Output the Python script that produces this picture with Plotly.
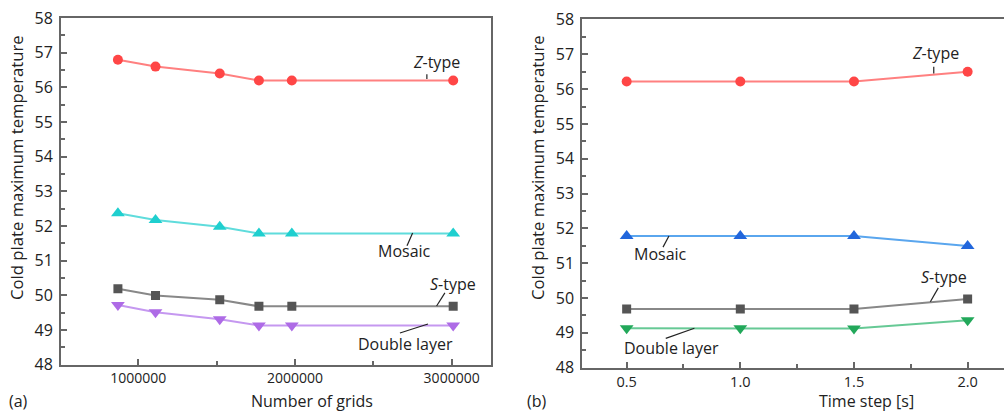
import plotly.graph_objects as go

# ---- data: panel (a) grid independence ----
grids = [870000, 1110000, 1520000, 1770000, 1980000, 3010000]
z_type_a = [56.8, 56.6, 56.4, 56.2, 56.2, 56.2]
mosaic_a = [52.37, 52.17, 51.98, 51.78, 51.78, 51.78]
s_type_a = [50.19, 49.99, 49.87, 49.68, 49.68, 49.68]
double_a = [49.72, 49.51, 49.31, 49.13, 49.13, 49.13]

# ---- data: panel (b) time step independence ----
time_step = [0.5, 1.0, 1.5, 2.0]
z_type_b = [56.22, 56.22, 56.22, 56.5]
mosaic_b = [51.78, 51.78, 51.78, 51.49]
s_type_b = [49.68, 49.68, 49.68, 49.97]
double_b = [49.13, 49.13, 49.12, 49.36]

y_ticks = [48, 49, 50, 51, 52, 53, 54, 55, 56, 57, 58]
x_ticks_a = [1000000, 2000000, 3000000]
x_ticks_b = [0.5, 1.0, 1.5, 2.0]

FONT = "Open Sans"
TXT = "#222222"
AX = "#666666"

fig = go.Figure()

def add_series(x, y, xa, ya, mcolor, lcolor, symbol, size):
    fig.add_trace(go.Scatter(
        x=x, y=y, xaxis=xa, yaxis=ya, mode="lines+markers",
        line=dict(color=lcolor, width=2),
        marker=dict(color=mcolor, size=size, symbol=symbol),
        showlegend=False, hoverinfo="skip"))

add_series(grids, z_type_a, "x", "y", "#FF4646", "#FF8080", "circle", 10)
add_series(grids, mosaic_a, "x", "y", "#1FCFCF", "#5FDCDC", "triangle-up", 12)
add_series(grids, s_type_a, "x", "y", "#555555", "#888888", "square", 9)
add_series(grids, double_a, "x", "y", "#AE6BE6", "#C598F0", "triangle-down", 12)

add_series(time_step, z_type_b, "x2", "y2", "#FF4646", "#FF8080", "circle", 10)
add_series(time_step, mosaic_b, "x2", "y2", "#2166DC", "#5AA6EE", "triangle-up", 12)
add_series(time_step, s_type_b, "x2", "y2", "#555555", "#888888", "square", 9)
add_series(time_step, double_b, "x2", "y2", "#22A85A", "#66C995", "triangle-down", 12)

def axis_style(size):
    return dict(
        showline=True, linecolor=AX, linewidth=2, ticks="inside", ticklen=6,
        tickcolor=AX, tickwidth=1.5, showgrid=False, zeroline=False,
        automargin=False,
        tickfont=dict(family=FONT, size=size, color=TXT),
    )

def minor(dtick, tick0):
    return dict(dtick=dtick, tick0=tick0, ticks="inside", ticklen=4,
                tickcolor=AX, tickwidth=1.5)

fig.update_layout(
    width=1004, height=411,
    margin=dict(l=0, r=0, t=0, b=0, pad=0, autoexpand=False),
    paper_bgcolor="white", plot_bgcolor="white",
    xaxis=dict(domain=[0.0608, 0.489], range=[507000, 3251000],
               tickvals=x_ticks_a, tickformat="d", mirror=True,
               minor=minor(500000, 0), anchor="y", **axis_style(14)),
    yaxis=dict(domain=[0.113, 0.956], range=[48, 58], tickvals=y_ticks,
               mirror=True, anchor="x", ticklabelstandoff=3,
               minor=minor(0.5, 48), **axis_style(16)),
    xaxis2=dict(domain=[0.58, 1.0], range=[0.305, 2.16],
                tickvals=x_ticks_b, tickformat=".1f", mirror=True,
                minor=minor(0.25, 0), anchor="y2", **axis_style(14.5)),
    yaxis2=dict(domain=[0.1056, 0.9526], range=[48, 58], tickvals=y_ticks,
                mirror=False, anchor="x2", ticklabelstandoff=3,
                minor=minor(0.5, 48), **axis_style(16)),
)

def label(text, x, y, xref, yref, size=16, **kw):
    fig.add_annotation(text=text, x=x, y=y, xref=xref, yref=yref, showarrow=False,
                       xanchor="center", yanchor="middle",
                       font=dict(family=FONT, size=size, color=TXT), **kw)

def leader(x0, y0, x1, y1, xref, yref):
    fig.add_shape(type="line", x0=x0, y0=y0, x1=x1, y1=y1, xref=xref, yref=yref,
                  line=dict(color="#222222", width=1.2))

# series labels panel (a)
label("<i>Z</i>-type", 2.901e6, 56.73, "x", "y")
leader(2.842e6, 56.38, 2.842e6, 56.24, "x", "y")
label("Mosaic", 2.696e6, 51.28, "x", "y")
leader(2.751e6, 51.795, 2.715e6, 51.43, "x", "y")
label("<i>S</i>-type", 3.008e6, 50.32, "x", "y")
leader(2.957e6, 50.07, 2.904e6, 49.69, "x", "y")
label("Double layer", 2.708e6, 48.59, "x", "y")
leader(2.670e6, 48.91, 2.849e6, 49.17, "x", "y")

# series labels panel (b)
label("<i>Z</i>-type", 1.858, 57.03, "x2", "y2")
leader(1.851, 56.64, 1.851, 56.45, "x2", "y2")
label("Mosaic", 0.651, 51.26, "x2", "y2")
leader(0.660, 51.46, 0.686, 51.78, "x2", "y2")
label("<i>S</i>-type", 1.898, 50.6, "x2", "y2")
leader(1.836, 49.89, 1.871, 50.29, "x2", "y2")
label("Double layer", 0.698, 48.55, "x2", "y2")
leader(0.672, 48.84, 0.798, 49.13, "x2", "y2")

# axis titles and panel letters (paper coords)
H = 411.0
W = 1004.0
label("Cold plate maximum temperature", 17 / W, 1 - 168 / H, "paper", "paper", size=16.7, textangle=-90)
label("Cold plate maximum temperature", 538 / W, 1 - 168 / H, "paper", "paper", size=16.7, textangle=-90)
label("Number of grids", 311.7 / W, 1 - 400.5 / H, "paper", "paper", size=16)
label("Time step [s]", 866.7 / W, 1 - 400.5 / H, "paper", "paper", size=16)
label("(a)", 18 / W, 1 - 400.5 / H, "paper", "paper", size=16)
label("(b)", 537 / W, 1 - 400.5 / H, "paper", "paper", size=16)

fig.write_html("out.html")
